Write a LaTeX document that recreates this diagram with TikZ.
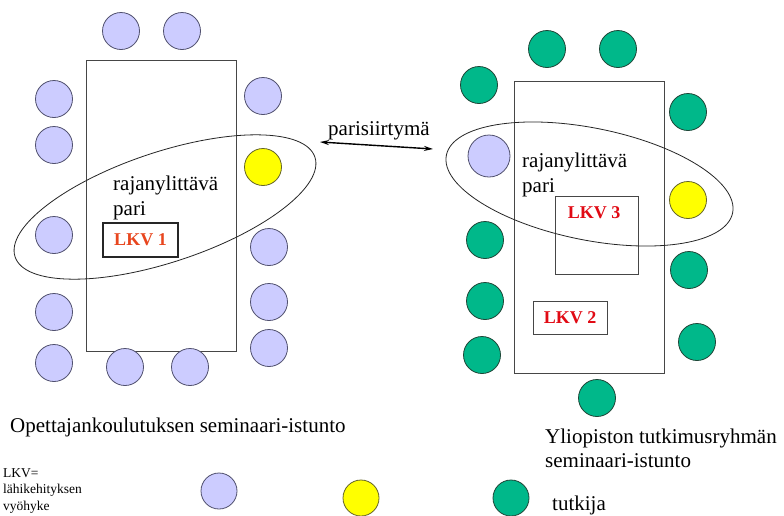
\documentclass[tikz,border=0pt]{standalone}
\usepackage{fontspec}
\setmainfont{Liberation Serif}
\usetikzlibrary{shapes.geometric,arrows.meta}
\definecolor{lilac}{RGB}{204,204,255}
\definecolor{lilacedge}{RGB}{80,80,110}
\definecolor{yel}{RGB}{255,255,0}
\definecolor{yeledge}{RGB}{100,100,40}
\definecolor{grn}{RGB}{0,184,138}
\definecolor{grnedge}{RGB}{30,70,55}
\definecolor{lkvorange}{RGB}{232,70,30}
\definecolor{lkvred}{RGB}{225,10,20}
\definecolor{tablegray}{RGB}{70,70,70}
\tikzset{
  seat/.style={circle, inner sep=0pt, minimum size=37pt, line width=0.8pt},
  lseat/.style={seat, fill=lilac, draw=lilacedge},
  yseat/.style={seat, fill=yel, draw=yeledge},
  gseat/.style={seat, fill=grn, draw=grnedge},
  tablebox/.style={draw=tablegray, line width=0.9pt},
  lbl/.style={inner sep=0pt, font=\fontsize{21}{24}\selectfont},
  small/.style={inner sep=0pt, font=\fontsize{13.5}{16}\selectfont},
  lkv/.style={inner sep=0pt, font=\fontsize{18}{20}\selectfont\bfseries},
  pairring/.style={ellipse, draw=black!85, line width=0.8pt, inner sep=0pt}
}
\begin{document}
\begin{tikzpicture}[x=1pt,y=-1pt]
\useasboundingbox (0,0) rectangle (784,515);
\fill[white] (0,0) rectangle (784,515);

% ---------- left table ----------
\draw[tablebox] (86,60) rectangle (236,351);
\node[lseat] (l1) at (121,31) {};
\node[lseat] (l2) at (182,31) {};
\node[lseat] (l3) at (54,99) {};
\node[lseat] (l4) at (54,145) {};
\node[lseat] (l5) at (54,235) {};
\node[lseat] (l6) at (54,312) {};
\node[lseat] (l7) at (54,363) {};
\node[lseat] (l8) at (263,96) {};
\node[yseat] (l9) at (263,167) {};
\node[lseat] (l10) at (269,247) {};
\node[lseat] (l11) at (269,302) {};
\node[lseat] (l12) at (269,348) {};
\node[lseat] (l13) at (125,367) {};
\node[lseat] (l14) at (190,367) {};

\node[pairring, minimum width=316pt, minimum height=110pt, rotate=18.4] (ringL) at (165,207) {};
\node[lbl, anchor=base west] (rajaL) at (113,190) {rajanylittävä};
\node[lbl, anchor=base west] (pariL) at (113,215) {pari};
\node[draw=black!85, line width=1.6pt, minimum width=75pt, minimum height=34pt, inner sep=0pt] (lkv1box) at (140.5,240) {};
\node[lkv, text=lkvorange] (lkv1) at (140.5,240) {LKV 1};

% ---------- arrow ----------
\node[lbl, anchor=base west] (pst) at (328,135) {parisiirtymä};
\coordinate (arrL) at (320,142);
\coordinate (arrR) at (433,149);
\draw[{Stealth[length=9pt,width=5pt]}-{Stealth[length=9pt,width=5pt]}, line width=1.4pt] (arrL) -- (arrR);

% ---------- right table ----------
\draw[tablebox] (514,81) rectangle (664,373);
\node[gseat] (r1) at (547,49) {};
\node[gseat] (r2) at (618,49) {};
\node[gseat] (r3) at (479,85) {};
\node[gseat] (r4) at (688,112) {};
\node[lseat, minimum size=42pt] (r5) at (489,156) {};
\node[yseat] (r6) at (688,200) {};
\node[gseat] (r7) at (485,240) {};
\node[gseat] (r8) at (485,301) {};
\node[gseat] (r9) at (482,355) {};
\node[gseat] (r10) at (689,270) {};
\node[gseat] (r11) at (697,342) {};
\node[gseat] (r12) at (597,398) {};

\draw[tablebox] (555,196) rectangle (638,274);
\node[lkv, text=lkvred] (lkv3) at (594,213) {LKV 3};
\draw[tablebox] (533,301) rectangle (607,334);
\node[lkv, text=lkvred] (lkv2) at (570,318) {LKV 2};

\node[pairring, minimum width=292pt, minimum height=112pt, rotate=-11.4] (ringR) at (589.5,184) {};
\node[lbl, anchor=base west] (rajaR) at (522,167) {rajanylittävä};
\node[lbl, anchor=base west] (pariR) at (522,192) {pari};

% ---------- captions ----------
\node[lbl, anchor=base west] (capL) at (10,432) {Opettajankoulutuksen seminaari-istunto};
\node[lbl, anchor=base west] (capR1) at (545,443) {Yliopiston tutkimusryhmän};
\node[lbl, anchor=base west] (capR2) at (545,467) {seminaari-istunto};

% ---------- legend ----------
\node[small, anchor=base west] (leg1) at (3,477) {LKV=};
\node[small, anchor=base west] (leg2) at (3,493) {lähikehityksen};
\node[small, anchor=base west] (leg3) at (3,510) {vyöhyke};
\node[lseat, minimum size=36pt] (kL) at (219,491) {};
\node[yseat, minimum size=36pt] (kY) at (361,498) {};
\node[gseat, minimum size=36pt] (kG) at (511,498) {};
\node[lbl, anchor=base west] (tutk) at (552,510) {tutkija};
\end{tikzpicture}
\end{document}
